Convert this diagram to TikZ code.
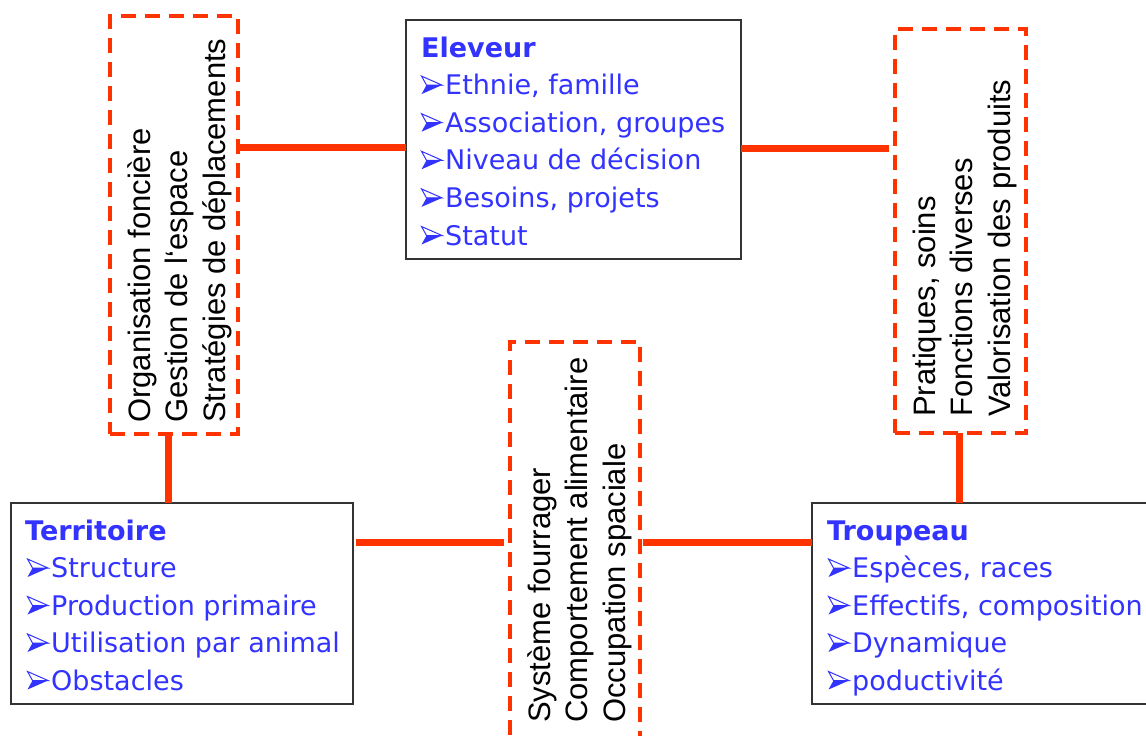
\documentclass[tikz,border=0pt]{standalone}
\usepackage{fontspec}
\setmainfont{Liberation Sans}
\newfontfamily\bluefont{DejaVu Sans}
\definecolor{tblue}{RGB}{51,51,255}
\definecolor{tred}{RGB}{255,51,0}
\tikzset{
 solidbox/.style={draw=black!80, line width=1.5pt, rectangle, inner sep=0pt, outer sep=0pt},
 dashbox/.style={draw=tred, line width=3.5pt, dash pattern=on 15pt off 9pt, rectangle, inner sep=0pt, outer sep=0pt},
 conn/.style={draw=tred, line width=7pt},
 titletext/.style={anchor=base west, inner sep=0pt, text=tblue, font=\bluefont\bfseries\fontsize{27}{32}\selectfont},
 itemtext/.style={anchor=base west, inner sep=0pt, text=tblue, font=\bluefont\fontsize{27}{32}\selectfont},
 vtext/.style={anchor=base west, inner sep=0pt, rotate=90, text=black, font=\fontsize{31}{36}\selectfont},
 bulletmark/.pic={
   \fill[tblue] (5.5,-9.5) -- (21,-9.5) -- (0.5,-0.5) -- cycle;
   \draw[tblue, line width=1pt, line join=miter] (0.5,-18.5) -- (21,-9.5) -- (5.5,-9.5) -- cycle;
 },
}
\begin{document}
\begin{tikzpicture}[x=1pt,y=-1pt]
\useasboundingbox (0,0) rectangle (1146,736);
\clip (0,0) rectangle (1146,736);
\fill[white] (0,0) rectangle (1146,736);

% boxes
\node[solidbox, minimum width=335pt, minimum height=239pt] (el) at (573.5,139.5) {};
\node[solidbox, minimum width=342pt, minimum height=201pt] (te) at (182,603.5) {};
\node[solidbox, minimum width=344pt, minimum height=201pt] (tr) at (984,603.5) {};
\node[dashbox, minimum width=128pt, minimum height=418pt] (gl) at (174,225) {};
\node[dashbox, minimum width=131pt, minimum height=404pt] (gr) at (960.5,231) {};
\node[dashbox, minimum width=130pt, minimum height=418pt] (gm) at (575,551) {};

% connector levels
\coordinate (h1) at (0,147.7);
\coordinate (h2) at (0,148);
\coordinate (h3) at (0,542.5);
\coordinate (h4) at (0,542.3);
\coordinate (v1) at (168.5,0);
\coordinate (v2) at (959,0);

\draw[conn] (gl.east |- h1) -- (el.west |- h1);
\draw[conn, shorten >=6pt] (el.east |- h2) -- (gr.west |- h2);
\draw[conn, shorten <=3pt, shorten >=6pt] (te.east |- h3) -- (gm.west |- h3);
\draw[conn, shorten <=3pt] (gm.east |- h4) -- (tr.west |- h4);
\draw[conn] (gl.south -| v1) -- (te.north -| v1);
\draw[conn] (gr.south -| v2) -- (tr.north -| v2);

% bullets
\foreach \y in {94.6,132.2,169.8,207.4,245} { \pic at (421,\y) {bulletmark}; }
\foreach \y in {577.5,615,652.5,690} { \pic at (27,\y) {bulletmark}; \pic at (828,\y) {bulletmark}; }

% Eleveur
\node[titletext] (el0) at (421,57) {Eleveur};
\node[itemtext] (el1) at (445,94.6) {Ethnie, famille};
\node[itemtext] (el2) at (445,132.2) {Association, groupes};
\node[itemtext] (el3) at (445,169.8) {Niveau de décision};
\node[itemtext] (el4) at (445,207.4) {Besoins, projets};
\node[itemtext] (el5) at (445,245) {Statut};

% Territoire
\node[titletext] (te0) at (25,540) {Territoire};
\node[itemtext] (te1) at (51,577.5) {Structure};
\node[itemtext] (te2) at (51,615) {Production primaire};
\node[itemtext] (te3) at (51,652.5) {Utilisation par animal};
\node[itemtext] (te4) at (51,690) {Obstacles};

% Troupeau
\node[titletext] (tr0) at (827,540) {Troupeau};
\node[itemtext] (tr1) at (852,577.5) {Espèces, races};
\node[itemtext] (tr2) at (852,615) {Effectifs, composition};
\node[itemtext] (tr3) at (852,652.5) {Dynamique};
\node[itemtext] (tr4) at (852,690) {poductivité};

% vertical texts, left
\node[vtext] (gl1) at (150,423) {Organisation foncière};
\node[vtext] (gl2) at (187.5,423) {Gestion de l‘espace};
\node[vtext] (gl3) at (225,423) {Stratégies de déplacements};

% vertical texts, right
\node[vtext] (gr1) at (935,417) {Pratiques,\ soins};
\node[vtext] (gr2) at (972.5,417) {Fonctions diverses};
\node[vtext] (gr3) at (1010,417) {Valorisation des produits};

% vertical texts, middle
\node[vtext] (gm1) at (550,723) {Système fourrager};
\node[vtext] (gm2) at (587.5,723) {Comportement alimentaire};
\node[vtext] (gm3) at (625,723) {Occupation spaciale};
\end{tikzpicture}
\end{document}
